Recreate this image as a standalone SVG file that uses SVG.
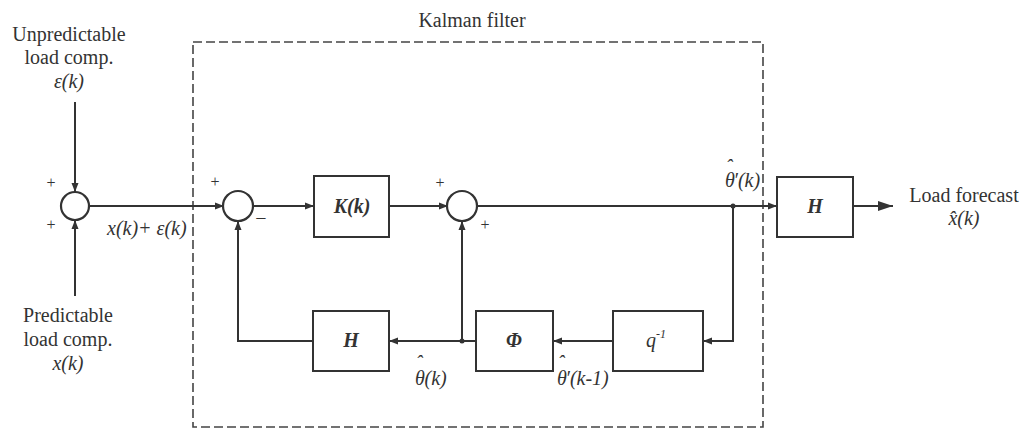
<svg xmlns="http://www.w3.org/2000/svg" width="1028" height="432" viewBox="0 0 1028 432" font-family="'Liberation Serif', 'Times New Roman', 'DejaVu Serif', serif">
<style>
text{font-family:'Liberation Serif','Times New Roman','DejaVu Serif',serif;fill:#333;font-size:20px}
.c{text-anchor:middle}
.i{font-style:italic}
.bi{font-style:italic;font-weight:bold}
.sm{font-size:16px}
.ln{stroke:#333;stroke-width:2;fill:none}
.bx{stroke:#333;stroke-width:2;fill:#fff}
.sj{stroke:#333;stroke-width:2.2;fill:#fff}
</style>
<defs>
<marker id="a" markerUnits="userSpaceOnUse" markerWidth="10" markerHeight="8" refX="9" refY="4" orient="auto"><path d="M0,0.5 L9,4 L0,7.5 Z" fill="#333"/></marker>
<marker id="A" markerUnits="userSpaceOnUse" markerWidth="16" markerHeight="10" refX="15" refY="5" orient="auto"><path d="M0,0 L15,5 L0,10 Z" fill="#333"/></marker>
</defs>
<rect x="0" y="0" width="1028" height="432" fill="#fff"/>

<g id="kalman-boundary">
<rect x="193" y="42" width="570" height="385" fill="none" stroke="#444" stroke-width="1.6" stroke-dasharray="9,4"/>
<text class="c" x="472" y="27">Kalman filter</text>
</g>

<g id="connectors">
<line class="ln" x1="75" y1="102" x2="75" y2="192" marker-end="url(#a)"/>
<line class="ln" x1="75" y1="296" x2="75" y2="220" marker-end="url(#a)"/>
<line class="ln" x1="89" y1="206" x2="224" y2="206" marker-end="url(#a)"/>
<line class="ln" x1="253" y1="206" x2="314" y2="206" marker-end="url(#a)"/>
<line class="ln" x1="389" y1="206" x2="448" y2="206" marker-end="url(#a)"/>
<line class="ln" x1="477" y1="206" x2="777" y2="206" marker-end="url(#a)"/>
<line class="ln" x1="853" y1="206" x2="893" y2="206" marker-end="url(#A)"/>
<polyline class="ln" points="733,206 733,341 703,341" marker-end="url(#a)"/>
<line class="ln" x1="613" y1="341" x2="553" y2="341" marker-end="url(#a)"/>
<line class="ln" x1="476" y1="341" x2="389" y2="341" marker-end="url(#a)"/>
<line class="ln" x1="462" y1="341" x2="462" y2="221" marker-end="url(#a)"/>
<polyline class="ln" points="313,341 238,341 238,221" marker-end="url(#a)"/>
<circle cx="733" cy="206" r="2.5" fill="#333"/>
<circle cx="462" cy="341" r="2.5" fill="#333"/>
</g>

<g id="input-unpredictable">
<text class="c" x="69" y="41">Unpredictable</text>
<text class="c" x="69" y="64">load comp.</text>
<text class="c i" x="69" y="88">ε(k)</text>
</g>

<g id="input-predictable">
<text class="c" x="68" y="322">Predictable</text>
<text class="c" x="68" y="346">load comp.</text>
<text class="c i" x="68" y="370">x(k)</text>
</g>

<g id="sum1">
<circle class="sj" cx="75" cy="206" r="14"/>
<text class="c sm" x="51" y="188">+</text>
<text class="c sm" x="51" y="230">+</text>
<text class="i" x="107" y="235" font-size="19">x(k)+ ε(k)</text>
</g>

<g id="sum2">
<circle class="sj" cx="238" cy="206" r="15"/>
<text class="c sm" x="215" y="187">+</text>
<text class="c" x="261" y="225">−</text>
</g>

<g id="gain-K">
<rect class="bx" x="314" y="176" width="75" height="61"/>
<text class="c bi" x="352" y="213">K(k)</text>
</g>

<g id="sum3">
<circle class="sj" cx="462" cy="206" r="15"/>
<text class="c sm" x="440" y="188">+</text>
<text class="c sm" x="485" y="230">+</text>
</g>

<g id="theta-prime-label">
<text class="i" x="725" y="187">θ<tspan dx="-9" dy="-13">ˆ</tspan><tspan dx="1" dy="13">′(k)</tspan></text>
</g>

<g id="output-H">
<rect class="bx" x="777" y="177" width="76" height="60"/>
<text class="c bi" x="815" y="213">H</text>
</g>

<g id="load-forecast">
<text class="c" x="964" y="202">Load forecast</text>
<text class="c i" x="964" y="225">x̂(k)</text>
</g>

<g id="feedback-H">
<rect class="bx" x="313" y="311" width="76" height="60"/>
<text class="c bi" x="351" y="347">H</text>
</g>

<g id="Phi">
<rect class="bx" x="476" y="311" width="77" height="60"/>
<text class="c bi" x="514" y="347">Φ</text>
</g>

<g id="delay-q">
<rect class="bx" x="613" y="311" width="90" height="60"/>
<text class="c i" x="656" y="347">q<tspan font-size="12" dy="-9">-1</tspan></text>
</g>

<g id="theta-labels">
<text class="i" x="415" y="385">θ<tspan dx="-9" dy="-15">ˆ</tspan><tspan dx="2" dy="15">(k)</tspan></text>
<text class="i" x="557" y="385">θ<tspan dx="-9" dy="-15">ˆ</tspan><tspan dx="1" dy="15">′(k-1)</tspan></text>
</g>
</svg>
